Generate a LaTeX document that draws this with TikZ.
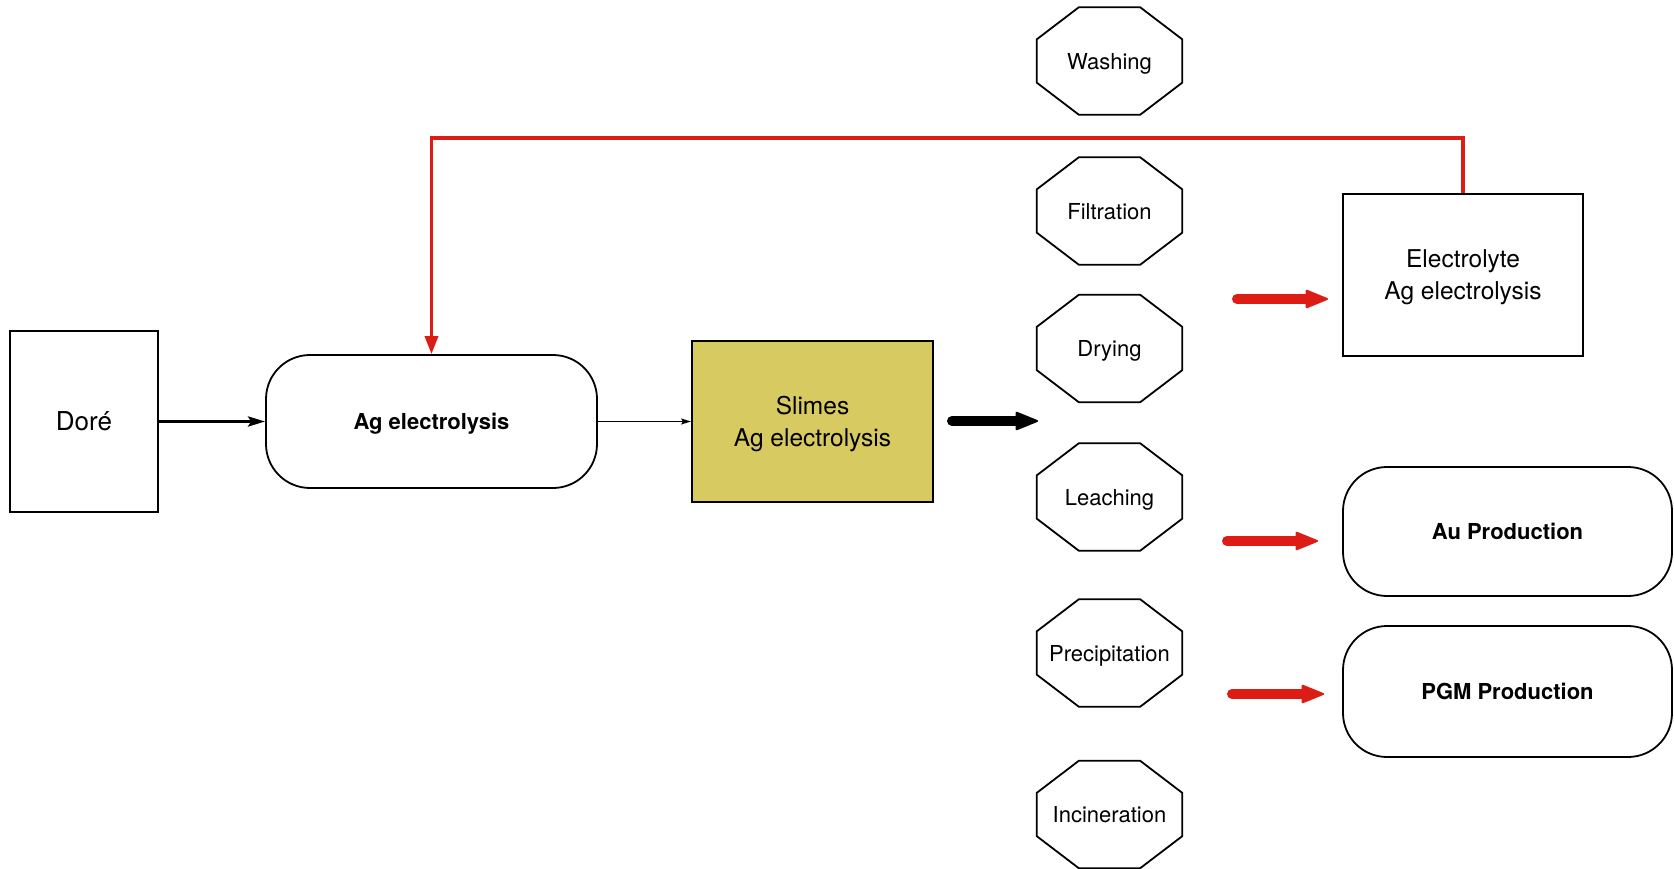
\documentclass[tikz,border=0pt]{standalone}
\usepackage{fontspec}
\setmainfont{TeX Gyre Heros}
\usetikzlibrary{arrows.meta,calc}
\definecolor{slimefill}{RGB}{215,202,96}
\definecolor{flowred}{RGB}{221,28,22}
\begin{document}
\begin{tikzpicture}[x=1pt,y=-1pt,
  box/.style={draw, line width=2pt, rectangle, inner sep=0pt, align=center},
  roundbox/.style={draw, line width=1.8pt, rounded corners=44pt, inner sep=0pt, align=center,
    text depth=0pt, font=\fontsize{22}{28}\selectfont\bfseries},
  stage/.style={inner sep=0pt, minimum width=145pt, minimum height=107pt, text depth=0pt,
    font=\fontsize{22}{28}\selectfont},
  octline/.style={line width=1.8pt, line join=miter},
  feed/.style={draw=flowred, line width=3.5pt, -{Triangle[length=18pt,width=13pt]}},
  bigarrow/.style={line width=10pt, line cap=round,
    -{Triangle[length=24pt,width=19pt,round,line width=2pt]}},
  midtext/.style={text depth=0pt, font=\fontsize{24.5}{32}\selectfont},
]
\useasboundingbox (0,0) rectangle (1674,869);

% main process chain
\node[box, minimum width=148pt, minimum height=181pt, text height=19pt,
  font=\fontsize{26}{30}\selectfont] (dore) at (84,421.5) {Doré};
\node[roundbox, minimum width=331pt, minimum height=133pt] (ag) at (431.5,421.5) {Ag electrolysis};
\node[box, midtext, fill=slimefill, minimum width=241pt, minimum height=161pt]
  (slimes) at (812.5,421.5) {Slimes\\Ag electrolysis};

% products
\node[box, midtext, minimum width=240pt, minimum height=162pt]
  (elec) at (1463,275) {Electrolyte\\Ag electrolysis};
\node[roundbox, minimum width=329pt, minimum height=129pt] (au) at (1507.5,531.5) {Au Production};
\node[roundbox, minimum width=329pt, minimum height=131pt] (pgm) at (1507.5,691.5) {PGM Production};

% slimes treatment stages
\node[stage] (wash)  at (1109.5,61)    {Washing};
\node[stage] (filt)  at (1109.5,211)   {Filtration};
\node[stage] (dry)   at (1109.5,348.5) {Drying};
\node[stage] (leach) at (1109.5,497)   {Leaching};
\node[stage] (prec)  at (1109.5,653)   {Precipitation};
\node[stage] (inci)  at (1109.5,814.5) {Incineration};

\foreach \n in {wash,filt,dry,leach,prec,inci}
  \draw[octline]
    ([xshift=42pt]\n.north west) -- ([xshift=-42pt]\n.north east)
    -- ([yshift=-32pt]\n.north east) -- ([yshift=32pt]\n.south east)
    -- ([xshift=-42pt]\n.south east) -- ([xshift=42pt]\n.south west)
    -- ([yshift=32pt]\n.south west) -- ([yshift=-32pt]\n.north west) -- cycle;

% connectors
\draw[line width=3pt, -{Stealth[length=17pt,width=10pt,inset=3pt]}] (dore) -- (ag);
\draw[line width=1.5pt, -{Stealth[length=10pt,width=6pt,inset=2pt]}] (ag) -- (slimes);

% electrolyte recycle
\coordinate (fbtop) at (431.5,138);
\draw[feed] (elec.north) |- (fbtop) -- (ag.north);

% flow markers
\coordinate (bs) at (952,421);  \coordinate (be) at (1038,421);
\coordinate (r1s) at (1237,299); \coordinate (r1e) at (1328,299);
\coordinate (r2s) at (1227,541); \coordinate (r2e) at (1318,541);
\coordinate (r3s) at (1232,694); \coordinate (r3e) at (1324,694);
\draw[bigarrow, black] (bs) -- (be);
\draw[bigarrow, flowred] (r1s) -- (r1e);
\draw[bigarrow, flowred] (r2s) -- (r2e);
\draw[bigarrow, flowred] (r3s) -- (r3e);
\end{tikzpicture}
\end{document}
